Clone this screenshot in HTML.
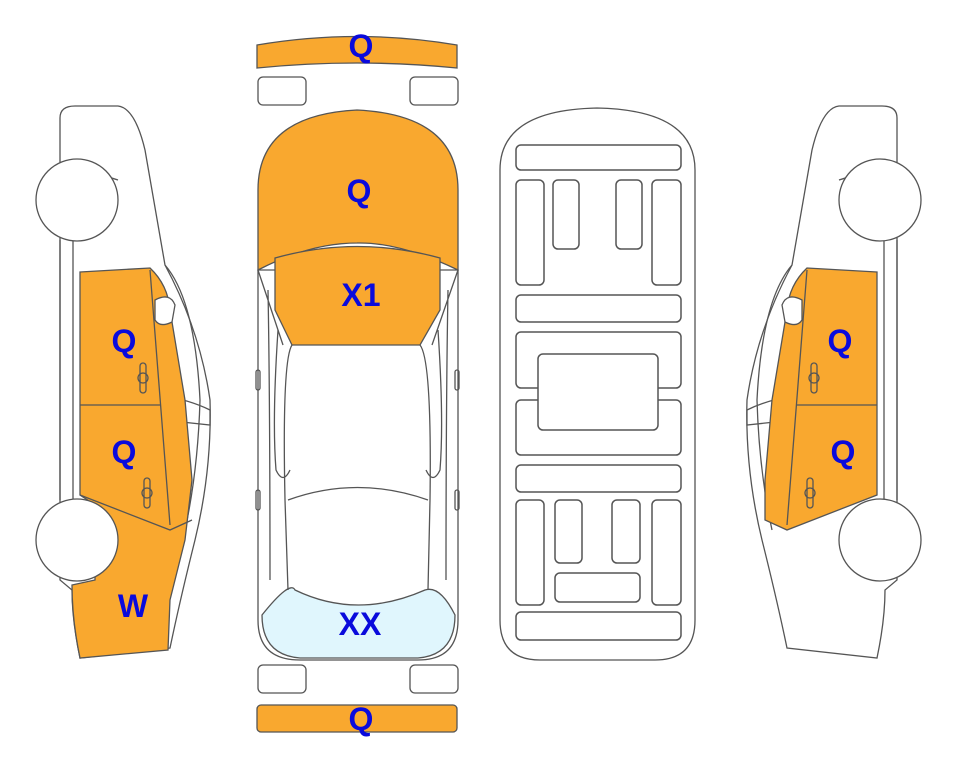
<!DOCTYPE html>
<html><head><style>body{margin:0;background:#fff}svg{display:block}text{font-family:"Liberation Sans",sans-serif;font-weight:bold;font-size:32px;fill:#0a0adc;text-anchor:middle}</style></head><body>
<svg width="963" height="768" viewBox="0 0 963 768" fill="none" stroke="#555" stroke-width="1.3">
<defs>
<g id="side">
<path d="M60,118 Q60,106 75,106 L118,106 Q135,108 145,150 L165,265 Q200,330 210,400 Q212,470 195,540 Q180,600 170,648 L80,658 Q72,620 72,590 L60,580 L60,118 Z" fill="#fff"/>
<path d="M60,178 Q90,170 118,180"/>
<path d="M165,265 Q195,300 200,400 Q198,470 185,530"/>
<path d="M160,395 Q190,400 210,410 L210,425 L163,420"/>
<line x1="60" y1="240" x2="60" y2="500"/>
<line x1="73" y1="240" x2="73" y2="500"/>
</g>
</defs>
<use href="#side"/>
<path d="M80,272 L150,268 Q168,285 170,310 L185,400 L192,480 L185,540 Q175,580 170,600 L168,650 L80,658 Q72,620 72,585 L95,580 L95,505 L80,495 Z" fill="#f9a82f" stroke="#555"/>
<path d="M80,405 L160,405 M150,270 L170,525 M80,495 L170,530 L192,520"/>
<path d="M155,300 Q170,292 175,305 L172,322 Q160,328 155,320 Z" fill="#fff"/>
<rect x="140" y="363" width="6" height="30" rx="3"/><circle cx="143" cy="378" r="5"/>
<rect x="144" y="478" width="6" height="30" rx="3"/><circle cx="147" cy="493" r="5"/>
<circle cx="77" cy="200" r="41" fill="#fff"/>
<circle cx="77" cy="540" r="41" fill="#fff"/>
<text x="124" y="352" stroke="none">Q</text>
<text x="124" y="463" stroke="none">Q</text>
<text x="133" y="617" stroke="none">W</text>
<g transform="translate(957,0) scale(-1,1)">
<use href="#side"/>
<path d="M80,272 L150,268 Q168,285 170,310 L185,400 L192,480 L192,520 L170,530 L80,495 Z" fill="#f9a82f"/>
<path d="M80,405 L160,405 M150,270 L170,525"/>
<path d="M155,300 Q170,292 175,305 L172,322 Q160,328 155,320 Z" fill="#fff"/>
<rect x="140" y="363" width="6" height="30" rx="3"/><circle cx="143" cy="378" r="5"/>
<rect x="144" y="478" width="6" height="30" rx="3"/><circle cx="147" cy="493" r="5"/>
<circle cx="77" cy="200" r="41" fill="#fff"/>
<circle cx="77" cy="540" r="41" fill="#fff"/>
</g>
<text x="840" y="352" stroke="none">Q</text>
<text x="843" y="463" stroke="none">Q</text>
<path d="M257,45 Q357,28 457,45 L457,68 Q357,58 257,68 Z" fill="#f9a82f"/>
<rect x="258" y="77" width="48" height="28" rx="5" fill="#fff"/>
<rect x="410" y="77" width="48" height="28" rx="5" fill="#fff"/>
<rect x="258" y="665" width="48" height="28" rx="5" fill="#fff"/>
<rect x="410" y="665" width="48" height="28" rx="5" fill="#fff"/>
<rect x="257" y="705" width="200" height="27" rx="4" fill="#f9a82f"/>
<path d="M258,270 L258,620 Q258,660 300,660 L418,660 Q458,660 458,620 L458,270 Z" fill="#fff"/>
<path d="M262,615 Q290,580 295,590 Q357,620 425,590 Q440,585 455,615 Q455,655 418,658 L300,658 Q262,655 262,615 Z" fill="#e0f6fd"/>
<path d="M258,270 L258,190 Q258,115 357,110 Q458,115 458,190 L458,270 Q400,242 357,243 Q310,243 258,270 Z" fill="#f9a82f"/>
<path d="M275,258 L275,310 L292,345 L420,345 L440,310 L440,258 Q357,235 275,258 Z" fill="#f9a82f"/>
<path d="M292,345 Q282,360 285,500 L288,590 M420,345 Q432,360 430,500 L428,590 M288,500 Q357,475 428,500"/>
<path d="M258,270 L283,345 M458,270 L432,345 M268,290 Q270,400 270,580 M448,290 Q446,400 446,580"/>
<path d="M278,330 Q272,420 276,470 Q283,485 290,470 M438,330 Q444,420 440,470 Q433,485 426,470"/>
<rect x="256" y="370" width="4" height="20" rx="2"/><rect x="256" y="490" width="4" height="20" rx="2"/>
<rect x="455" y="370" width="4" height="20" rx="2"/><rect x="455" y="490" width="4" height="20" rx="2"/>
<text x="361" y="57" stroke="none" font-size="29">Q</text>
<text x="359" y="202" stroke="none">Q</text>
<text x="361" y="306" stroke="none">X1</text>
<text x="360" y="635" stroke="none">XX</text>
<text x="361" y="730" stroke="none" font-size="29">Q</text>
<path d="M500,170 Q500,110 597,108 Q695,110 695,170 L695,620 Q695,660 655,660 L540,660 Q500,660 500,620 Z" fill="#fff"/>
<g stroke-width="1.5">
<rect x="516" y="145" width="165" height="25" rx="5"/>
<rect x="516" y="180" width="28" height="105" rx="5"/><rect x="553" y="180" width="26" height="69" rx="5"/>
<rect x="616" y="180" width="26" height="69" rx="5"/><rect x="652" y="180" width="29" height="105" rx="5"/>
<rect x="516" y="295" width="165" height="27" rx="5"/>
<rect x="516" y="332" width="165" height="56" rx="5"/>
<rect x="516" y="400" width="165" height="55" rx="5"/>
<rect x="538" y="354" width="120" height="76" rx="5" fill="#fff"/>
<rect x="516" y="465" width="165" height="27" rx="5"/>
<rect x="516" y="500" width="28" height="105" rx="5"/><rect x="555" y="500" width="27" height="63" rx="5"/>
<rect x="612" y="500" width="28" height="63" rx="5"/><rect x="652" y="500" width="29" height="105" rx="5"/>
<rect x="555" y="573" width="85" height="29" rx="5"/>
<rect x="516" y="612" width="165" height="28" rx="5"/>
</g>
</svg>
</body></html>
